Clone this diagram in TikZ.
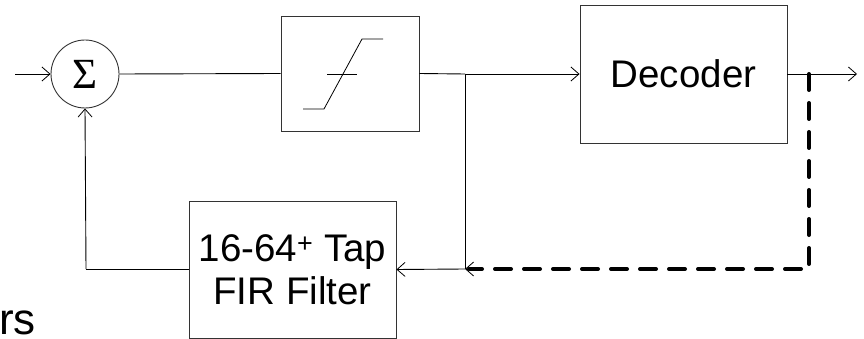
\documentclass[tikz,border=0pt]{standalone}
\usepackage{fontspec}
\setmainfont{Liberation Sans}
\newfontfamily\serifsym{Liberation Serif}
\usetikzlibrary{arrows.meta}
\begin{document}
\begin{tikzpicture}[x=1pt,y=-1pt,
  blk/.style={draw=black!80,line width=0.9pt,rectangle,inner sep=0pt,align=center},
  conn/.style={draw=black,line width=0.9pt},
  arr/.style={conn,-{Straight Barb[length=8pt,width=14pt,line width=0.8pt]}},
  fb/.style={draw=black,line width=4pt,line cap=round,dash pattern=on 16pt off 13pt},
  txt/.style={font=\fontsize{38.5}{43}\selectfont}]
\useasboundingbox (0,0) rectangle (864,339);
\node[draw=black!80,line width=0.9pt,circle,minimum size=68pt,inner sep=0pt] (sum) at (85,74)
  {\fontsize{43}{43}\selectfont\serifsym Σ};
\node[blk,minimum width=138pt,minimum height=115pt] (sat) at (350,73.5) {};
\node[blk,txt,minimum width=207pt,minimum height=138pt] (dec) at (683.5,74) {Decoder};
\node[blk,txt,minimum width=207pt,minimum height=137pt] (fir) at (292.5,269.5)
  {16-64\textsuperscript{+} Tap\\FIR Filter};
\node[font=\fontsize{44}{44}\selectfont,anchor=base east,inner sep=0pt] (frag) at (36,334) {rs};
\coordinate (in) at (15,74);
\coordinate (out) at (857,74);
\coordinate (j) at (465,74);
\coordinate (jb) at (465,269);
\coordinate (dt) at (809,74);
\coordinate (db) at (809,269);
\coordinate (fl) at (86,269);
% saturation graph
\draw[line width=0.8pt] (327,74) -- (357,74);
\draw[line width=0.8pt] (303,109) -- (324,109) -- (362,39) -- (383,39);
% connectors
\draw[arr] (in) -- (sum.west);
\draw[conn] (sum.east) -- (sat.west);
\draw[conn] (sat.east) -- (j);
\draw[arr] (j) -- (dec.west);
\draw[arr] (dec.east) -- (out);
\draw[conn] (j) -- (jb);
\draw[arr] (jb) -- (fir.east);
\draw[conn] (fir.west |- fl) -- (fl);
\draw[arr] (fl) -- (sum.south);
\draw[fb] (dt) -- (db) -- ([xshift=4pt]jb);
\draw[-{Straight Barb[length=8pt,width=14pt,line width=0.8pt]},line width=0.8pt] ([xshift=4pt]jb) -- (jb);
\end{tikzpicture}
\end{document}
